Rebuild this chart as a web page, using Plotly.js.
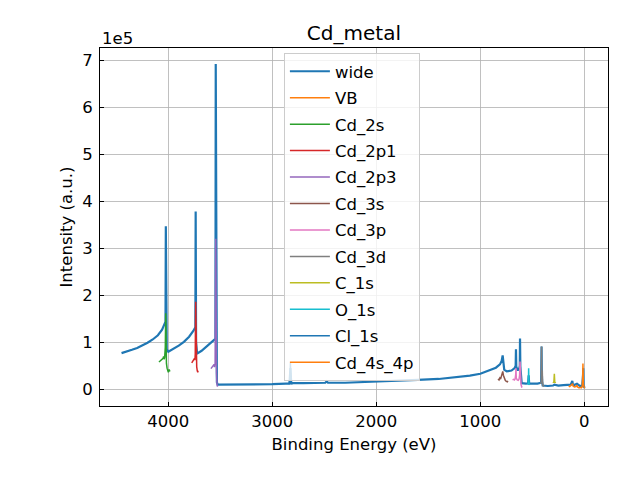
<!DOCTYPE html>
<html>
<head>
<meta charset="utf-8">
<script src="https://cdn.plot.ly/plotly-3.0.1.min.js"></script>
<style>html,body{margin:0;padding:0;background:#fff;}#chart{width:640px;height:480px;}</style>
</head>
<body>
<div id="chart"></div>
<script>
// Intensities are in units of 1e5 (a.u.), binding energies in eV
const wideX = [4450,4400,4350,4300,4250,4200,4150,4100,4060,4035,4027,4024,4021,4015,4000,
  3950,3900,3850,3800,3760,3745,3740,3737,3733,3725,3717,3680,3640,3600,3565,3550,3547,3544,3540,3533,3525,
  3400,3200,3000,2870,2835,2826,2818,2700,2600,2490,2477,2465,2300,2000,1800,1600,1400,1200,1100,1000,
  900,850,811,795,785,778,770,746,700,670,660,657,654,640,625,620,618,615,612,602,
  560,540,535,530,500,450,415,411,409,405,400,350,300,288,250,200,130,115,110,100,70,40,20,12,10,7,5,-5];
const wideY = [0.77,0.80,0.84,0.88,0.93,0.99,1.06,1.15,1.27,1.38,1.44,3.47,1.20,0.85,0.80,
  0.86,0.93,1.01,1.12,1.24,1.30,1.32,3.78,1.00,0.80,0.77,0.82,0.89,0.96,1.04,1.07,1.08,6.92,0.80,0.15,0.10,
  0.10,0.10,0.11,0.12,0.12,0.45,0.13,0.13,0.13,0.14,0.17,0.14,0.14,0.16,0.18,0.20,0.22,0.26,0.29,0.33,
  0.41,0.46,0.53,0.60,0.72,0.50,0.42,0.38,0.40,0.45,0.50,0.85,0.48,0.40,0.45,0.50,1.08,0.50,0.40,0.13,
  0.12,0.13,0.30,0.12,0.12,0.12,0.14,0.91,0.40,0.15,0.08,0.07,0.08,0.10,0.08,0.09,0.10,0.18,0.11,0.09,0.12,0.07,0.08,0.30,0.45,0.10,0.06,0.03];

const vbX = [25,20,16,14,13,11,9,5,2,0,-3];
const vbY = [0.04,0.06,0.20,0.40,0.55,0.35,0.10,0.04,0.03,0.02,0.02];

const cd2sX = [4090,4080,4070,4060,4050,4045,4040,4035,4029,4025,4022,4018,4012,4005,4000,3992,3985];
const cd2sY = [0.58,0.60,0.62,0.64,0.66,0.70,0.64,0.68,0.90,1.62,0.60,0.55,0.45,0.40,0.36,0.42,0.38];

const cd2p1X = [3775,3768,3760,3752,3748,3744,3741,3737,3734,3731,3727,3722,3717,3714];
const cd2p1Y = [0.56,0.58,0.60,0.63,0.66,0.62,0.75,1.86,0.80,0.55,0.48,0.40,0.36,0.40];

const cd2p3X = [3590,3582,3575,3566,3560,3556,3550,3544,3541,3537,3533,3529,3526];
const cd2p3Y = [0.44,0.46,0.48,0.50,0.53,0.47,0.55,3.20,0.60,0.35,0.15,0.06,0.08];

const cd3sX = [830,820,812,805,797,790,784,778,770,760,750,740,735];
const cd3sY = [0.22,0.20,0.24,0.22,0.28,0.33,0.38,0.30,0.24,0.19,0.17,0.16,0.18];

const cd3pX = [690,680,672,665,660,657,654,645,635,627,622,618,614,608,602,596];
const cd3pY = [0.20,0.21,0.20,0.22,0.30,0.45,0.24,0.20,0.19,0.22,0.30,0.59,0.25,0.10,0.05,0.04];

const cd3dX = [425,418,414,412,411,409,406,404,402,398,390,385];
const cd3dY = [0.13,0.13,0.16,0.60,0.91,0.35,0.15,0.40,0.20,0.08,0.06,0.06];

const c1sX = [300,295,292,290,288,286,284,281,276];
const c1sY = [0.16,0.14,0.17,0.24,0.33,0.24,0.16,0.14,0.16];

const o1sX = [545,540,537,535,533,530,525];
const o1sY = [0.10,0.11,0.20,0.45,0.18,0.11,0.10];

const cl1sX = [2845,2835,2830,2826,2822,2815,2805];
const cl1sY = [0.12,0.13,0.25,0.56,0.25,0.12,0.12];

const cd4sX = [150,140,130,120,112,108,95,80,70,65,50,40,30,20];
const cd4sY = [0.07,0.06,0.08,0.10,0.12,0.07,0.05,0.06,0.09,0.05,0.03,0.04,0.03,0.05];

const names = ['wide','VB','Cd_2s','Cd_2p1','Cd_2p3','Cd_3s','Cd_3p','Cd_3d','C_1s','O_1s','Cl_1s','Cd_4s_4p'];
const xs = [wideX,vbX,cd2sX,cd2p1X,cd2p3X,cd3sX,cd3pX,cd3dX,c1sX,o1sX,cl1sX,cd4sX];
const ys = [wideY,vbY,cd2sY,cd2p1Y,cd2p3Y,cd3sY,cd3pY,cd3dY,c1sY,o1sY,cl1sY,cd4sY];
const colors = ['#1f77b4','#ff7f0e','#2ca02c','#d62728','#9467bd','#8c564b','#e377c2','#7f7f7f','#bcbd22','#17becf','#1f77b4','#ff7f0e'];

const traces = names.map((n,i)=>({
  type:'scatter', mode:'lines', name:n, x:xs[i], y:ys[i],
  line:{color:colors[i], width: i===0 ? 2.2 : 1.5},
  legendgroup:'g'+i
}));

const font = {family:'DejaVu Sans, sans-serif', size:16.5, color:'#000'};
const axisCommon = {
  showline:true, linecolor:'#000', linewidth:1, mirror:true,
  ticks:'inside', ticklen:4, tickwidth:1, tickcolor:'#000',
  showgrid:true, gridcolor:'#b0b0b0', gridwidth:0.8, zeroline:false,
  tickfont:font, automargin:false
};

const layout = {
  width:640, height:480,
  margin:{l:100, r:32, t:48, b:74},
  paper_bgcolor:'#fff', plot_bgcolor:'#fff',
  font:font,
  title:{text:'Cd_metal', font:{family:'DejaVu Sans, sans-serif', size:20, color:'#000'}, x:0.553, xanchor:'center', y:0.931, yanchor:'middle'},
  xaxis:Object.assign({}, axisCommon, {
    range:[4657,-228], tickvals:[4000,3000,2000,1000,0], ticktext:['4000','3000','2000','1000','0'],
    title:{text:'Binding Energy (eV)', font:font, standoff:8}
  }),
  yaxis:Object.assign({}, axisCommon, {
    range:[-0.355,7.26], tickvals:[0,1,2,3,4,5,6,7], ticktext:['0','1','2','3','4','5','6','7'],
    ticklabelstandoff:3,
    title:{text:'Intensity (a.u.)', font:font, standoff:5}
  }),
  showlegend:true,
  legend:{x:0.362, y:0.986, xanchor:'left', yanchor:'top', bgcolor:'rgba(255,255,255,0.8)',
    bordercolor:'#cccccc', borderwidth:1, font:font, tracegroupgap:2, traceorder:'grouped', itemwidth:40},
  annotations:[{text:'1e5', xref:'paper', yref:'paper', x:0, y:1, xanchor:'left', yanchor:'bottom', showarrow:false, font:font, yshift:-2}]
};

Plotly.newPlot('chart', traces, layout, {displayModeBar:false, staticPlot:true});
</script>
</body>
</html>
